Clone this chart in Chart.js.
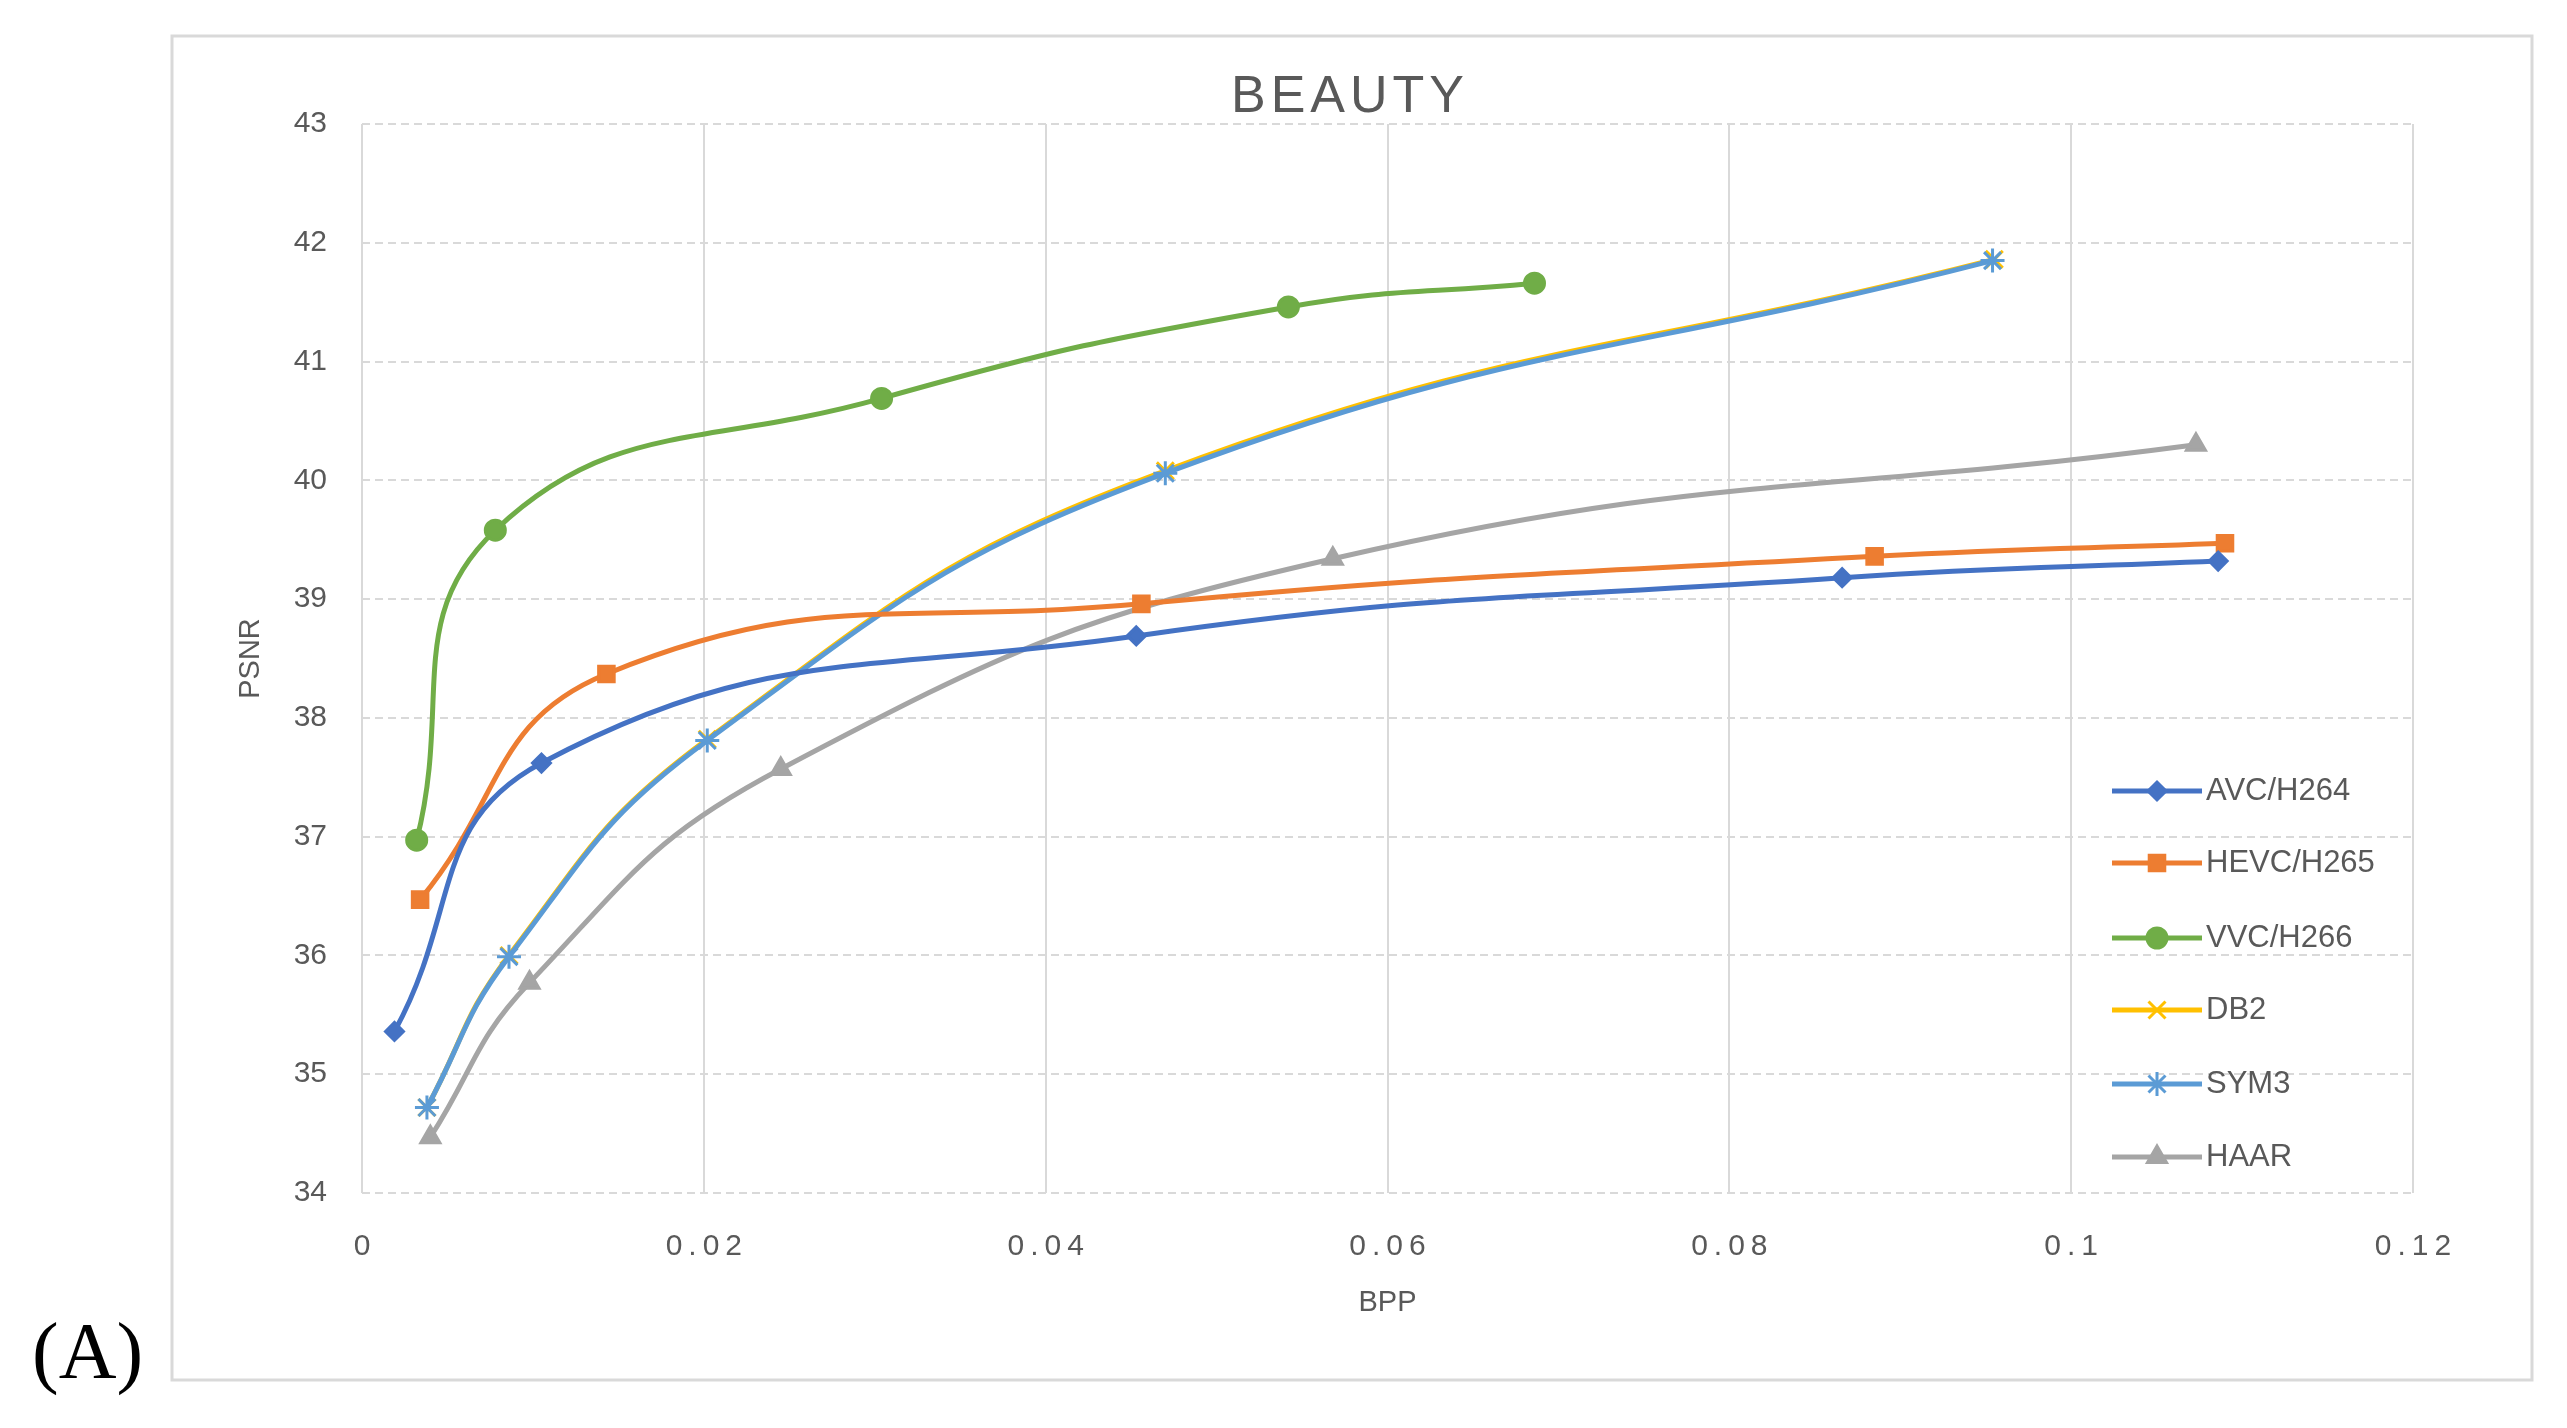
<!DOCTYPE html>
<html><head><meta charset="utf-8">
<script src="https://cdn.jsdelivr.net/npm/chart.js@4/dist/chart.umd.min.js"></script>
<style>html,body{margin:0;padding:0;background:#fff}canvas{display:block}</style>
</head><body>
<canvas id="c" width="2567" height="1428"></canvas>
<script>
const seriesNames = ["AVC/H264","HEVC/H265","VVC/H266","DB2","SYM3","HAAR"];
const avcX = [0.0019,0.0105,0.0453,0.0866,0.1086];
const avcY = [35.36,37.62,38.69,39.18,39.32];
const hevcX = [0.0034,0.0143,0.0456,0.0885,0.109];
const hevcY = [36.47,38.37,38.96,39.36,39.47];
const vvcX = [0.0032,0.0078,0.0304,0.0542,0.0686];
const vvcY = [36.97,39.58,40.69,41.46,41.66];
const db2X = [0.0038,0.0086,0.0202,0.0470,0.0955];
const db2Y = [34.72,36.00,37.82,40.08,41.86];
const sym3X = [0.0038,0.0086,0.0202,0.0470,0.0954];
const sym3Y = [34.72,35.99,37.81,40.06,41.85];
const haarX = [0.0040,0.0098,0.0245,0.0568,0.1073];
const haarY = [34.47,35.77,37.57,39.34,40.30];
const xTicks = ["0","0.02","0.04","0.06","0.08","0.1","0.12"];
const colors = ["#4472C4","#ED7D31","#70AD47","#FFC000","#5B9BD5","#A5A5A5"];
const styles = ["rectRot","rect","circle","crossRot","star","triangle"];
const radii = [9,11,10,12,12,11];
const orders = [1,2,3,5,4,6];
const xs=[avcX,hevcX,vvcX,db2X,sym3X,haarX], ys=[avcY,hevcY,vvcY,db2Y,sym3Y,haarY];
const datasets = seriesNames.map((n,i)=>({
  label:n, data:xs[i].map((x,j)=>({x:x,y:ys[i][j]})), order:orders[i],
  borderColor:colors[i], backgroundColor:colors[i], borderWidth:5,
  pointStyle:styles[i], pointRadius:radii[i], pointBorderWidth:3,
  tension:0.45, fill:false
}));
const deco = {
  id:'deco',
  afterDraw(ch){
    const c=ch.ctx; c.save();
    c.strokeStyle='#d9d9d9'; c.lineWidth=3; c.strokeRect(172,36,2360,1344);
    c.fillStyle='#595959'; c.font='52px "Liberation Sans", Arial';
    c.letterSpacing='5px'; c.textAlign='center'; c.textBaseline='middle';
    c.fillText('BEAUTY',1350,98); c.letterSpacing='0px';
    c.fillStyle='#000'; c.font='80px "Liberation Serif", serif'; c.textAlign='left';
    c.fillText('(A)',32,1357);
    const ly=[791,863,938,1010,1084,1157];
    seriesNames.forEach((n,i)=>{
      const d=ch.data.datasets[i];
      c.strokeStyle=d.borderColor; c.lineWidth=5;
      c.beginPath(); c.moveTo(2112,ly[i]); c.lineTo(2202,ly[i]); c.stroke();
      c.fillStyle=d.backgroundColor;c.strokeStyle=d.borderColor;c.lineWidth=3;
      Chart.helpers.drawPoint(c,{pointStyle:d.pointStyle,radius:d.pointRadius,borderWidth:3},2157,ly[i]);
      c.fillStyle='#595959'; c.font='31px "Liberation Sans", Arial'; c.textAlign='left';
      c.fillText(d.label,2206,ly[i]);
    });
    c.restore();
  }
};
new Chart(document.getElementById('c'),{
  type:'line', data:{datasets},
  options:{responsive:false, animation:false,
    layout:{padding:{left:230,top:124,right:154,bottom:104}},
    plugins:{legend:{display:false},tooltip:{enabled:false}},
    scales:{
      x:{type:'linear',min:0,max:0.12,
        afterFit:s=>{s.height=131;},
        afterBuildTicks:s=>{s.ticks=xTicks.map(v=>({value:parseFloat(v)}));},
        ticks:{color:'#595959',font:{size:30,family:'Liberation Sans'},padding:36,
          callback:(v,i)=>xTicks[i].split('').join('\u2009')},
        grid:{color:'#d9d9d9',lineWidth:2,drawTicks:false},
        border:{display:false},
        title:{display:true,text:'BPP',color:'#595959',font:{size:29,family:'Liberation Sans'}}},
      y:{min:34,max:43,
        afterFit:s=>{s.width=132;},
        ticks:{stepSize:1,color:'#595959',font:{size:30,family:'Liberation Sans'},padding:35},
        grid:{color:'#d9d9d9',lineWidth:2,drawTicks:false},
        border:{display:false,dash:[8,5]},
        title:{display:true,text:'PSNR',color:'#595959',font:{size:29,family:'Liberation Sans'}}}
    }},
  plugins:[deco]
});
</script>
</body></html>
